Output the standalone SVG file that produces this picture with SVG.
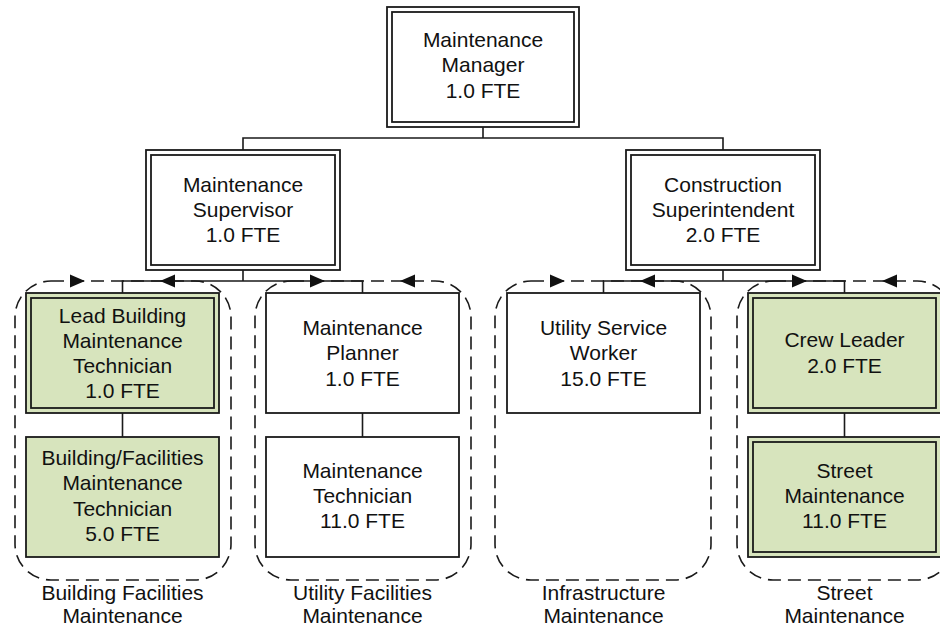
<svg xmlns="http://www.w3.org/2000/svg" xmlns:xlink="http://www.w3.org/1999/xlink" width="940" height="631" viewBox="0 0 940 631">
  <style>
    .box { fill: #ffffff; stroke: #1a1a1a; stroke-width: 1.8; }
    .green { fill: #d7e4bd; }
    .inner { fill: none; stroke: #1a1a1a; stroke-width: 1.8; }
    .conn { fill: none; stroke: #1a1a1a; stroke-width: 1.6; }
    .group { fill: none; stroke: #1a1a1a; stroke-width: 1.6; stroke-dasharray: 13 7; }
    .arrow { fill: #111111; }
    text { font-family: "Liberation Sans", Arial, sans-serif; font-size: 21px; fill: #111111; text-anchor: middle; }
  </style>
  <defs>
    <polygon id="arrowR" class="arrow" points="0,0 -15,-6.5 -15,6.5"/>
    <polygon id="arrowL" class="arrow" points="0,0 15,-6.5 15,6.5"/>
  </defs>

  <!-- dashed group outlines with their arrowheads -->
  <g id="groups">
    <rect class="group" x="15" y="281" width="216" height="299" rx="36"/>
    <rect class="group" x="255" y="281" width="216" height="299" rx="36"/>
    <rect class="group" x="495" y="281" width="216" height="299" rx="36"/>
    <rect class="group" x="737" y="281" width="216" height="299" rx="36"/>
  </g>

  <!-- connectors -->
  <g id="connectors">
    <path class="conn" d="M483 127 V138 M243 150 V138 H723 V150"/>
    <path class="conn" d="M243 270 V281 M122.5 293 V281 H362.5 V293"/>
    <path class="conn" d="M723 270 V281 M603.5 293 V281 H844.5 V293"/>
    <path class="conn" d="M122.5 413 V437 M362.5 413 V437 M844.5 413 V437"/>
  </g>

  <g id="arrows">
    <use xlink:href="#arrowR" x="85" y="281"/>
    <use xlink:href="#arrowL" x="160" y="281"/>
    <use xlink:href="#arrowR" x="325" y="281"/>
    <use xlink:href="#arrowL" x="400" y="281"/>
    <use xlink:href="#arrowR" x="565" y="281"/>
    <use xlink:href="#arrowL" x="640" y="281"/>
    <use xlink:href="#arrowR" x="807" y="281"/>
    <use xlink:href="#arrowL" x="882" y="281"/>
  </g>

  <g id="maintenance-manager">
    <rect class="box" x="387" y="7" width="192" height="120"/>
    <rect class="inner" x="392" y="12" width="182" height="110"/>
    <text x="483" y="47">Maintenance</text>
    <text x="483" y="72">Manager</text>
    <text x="483" y="98">1.0 FTE</text>
  </g>

  <g id="maintenance-supervisor">
    <rect class="box" x="146" y="150" width="194" height="120"/>
    <rect class="inner" x="151" y="155" width="184" height="110"/>
    <text x="243" y="192">Maintenance</text>
    <text x="243" y="217">Supervisor</text>
    <text x="243" y="242">1.0 FTE</text>
  </g>

  <g id="construction-superintendent">
    <rect class="box" x="626" y="150" width="194" height="120"/>
    <rect class="inner" x="631" y="155" width="184" height="110"/>
    <text x="723" y="192">Construction</text>
    <text x="723" y="217">Superintendent</text>
    <text x="723" y="242">2.0 FTE</text>
  </g>

  <g id="lead-building-technician">
    <rect class="box green" x="26" y="293" width="193" height="120"/>
    <rect class="inner" x="31" y="298" width="183" height="110"/>
    <text x="122.5" y="323">Lead Building</text>
    <text x="122.5" y="348">Maintenance</text>
    <text x="122.5" y="373">Technician</text>
    <text x="122.5" y="398">1.0 FTE</text>
  </g>

  <g id="building-facilities-technician">
    <rect class="box green" x="26" y="437" width="193" height="120"/>
    <text x="122.5" y="465">Building/Facilities</text>
    <text x="122.5" y="490">Maintenance</text>
    <text x="122.5" y="516">Technician</text>
    <text x="122.5" y="541">5.0 FTE</text>
  </g>

  <g id="maintenance-planner">
    <rect class="box" x="266" y="293" width="193" height="120"/>
    <text x="362.5" y="335">Maintenance</text>
    <text x="362.5" y="360">Planner</text>
    <text x="362.5" y="386">1.0 FTE</text>
  </g>

  <g id="maintenance-technician">
    <rect class="box" x="266" y="437" width="193" height="120"/>
    <text x="362.5" y="478">Maintenance</text>
    <text x="362.5" y="503">Technician</text>
    <text x="362.5" y="528">11.0 FTE</text>
  </g>

  <g id="utility-service-worker">
    <rect class="box" x="507" y="293" width="193" height="120"/>
    <text x="603.5" y="335">Utility Service</text>
    <text x="603.5" y="360">Worker</text>
    <text x="603.5" y="386">15.0 FTE</text>
  </g>

  <g id="crew-leader">
    <rect class="box green" x="748" y="293" width="193" height="120"/>
    <rect class="inner" x="753" y="298" width="183" height="110"/>
    <text x="844.5" y="347">Crew Leader</text>
    <text x="844.5" y="373">2.0 FTE</text>
  </g>

  <g id="street-maintenance">
    <rect class="box green" x="748" y="437" width="193" height="120"/>
    <rect class="inner" x="753" y="442" width="183" height="110"/>
    <text x="844.5" y="478">Street</text>
    <text x="844.5" y="503">Maintenance</text>
    <text x="844.5" y="528">11.0 FTE</text>
  </g>

  <!-- group captions -->
  <g id="group-labels">
    <text x="122.5" y="600">Building Facilities</text>
    <text x="122.5" y="623">Maintenance</text>
    <text x="362.5" y="600">Utility Facilities</text>
    <text x="362.5" y="623">Maintenance</text>
    <text x="603.5" y="600">Infrastructure</text>
    <text x="603.5" y="623">Maintenance</text>
    <text x="844.5" y="600">Street</text>
    <text x="844.5" y="623">Maintenance</text>
  </g>
</svg>
